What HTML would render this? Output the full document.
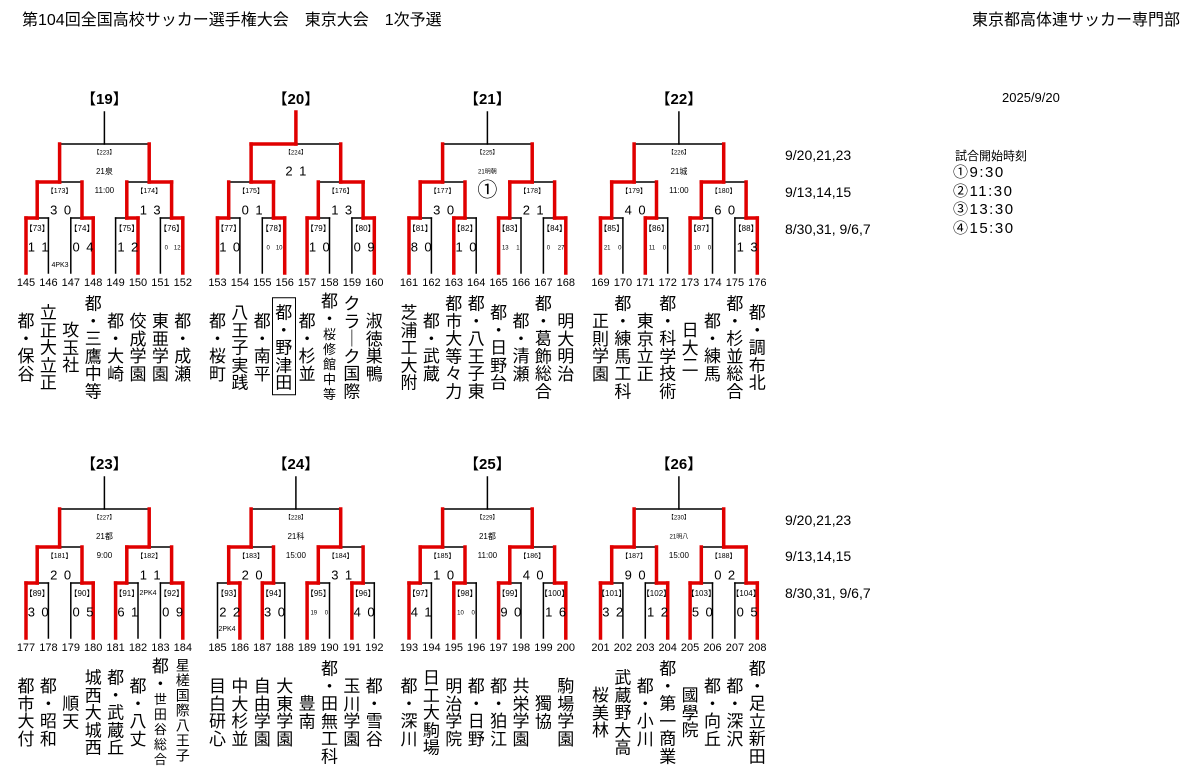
<!DOCTYPE html>
<html><head><meta charset="utf-8">
<style>
html,body{margin:0;padding:0;background:#fff;}
body{width:1200px;height:772px;position:relative;overflow:hidden;font-family:"Liberation Sans","Noto Sans CJK JP",sans-serif;color:#000;}
.t{position:absolute;white-space:nowrap;}
.nm{position:absolute;font-size:17px;line-height:17.5px;width:20px;text-align:center;transform:translateY(-50%);font-family:"Noto Sans CJK JP",sans-serif;}
.nm .s{font-size:13px;line-height:15px;}
.nm.sm{font-size:14px;line-height:15px;}
.box{border:1.5px solid #000;padding:4px 1px;}
svg{position:absolute;left:0;top:0;}
svg text{font-family:"Liberation Sans","Noto Sans CJK JP",sans-serif;}
</style></head><body>
<div class="t" style="left:22px;top:6px;font-size:16px;">第104回全国高校サッカー選手権大会　東京大会　1次予選</div>
<div class="t" style="right:20px;top:6px;font-size:16px;">東京都高体連サッカー専門部</div>
<div class="t" style="left:1002px;top:90px;font-size:13px;">2025/9/20</div>
<div class="t" style="left:785px;top:147px;font-size:14px;">9/20,21,23</div>
<div class="t" style="left:785px;top:184px;font-size:14px;">9/13,14,15</div>
<div class="t" style="left:785px;top:221px;font-size:14px;">8/30,31, 9/6,7</div>
<div class="t" style="left:785px;top:512px;font-size:14px;">9/20,21,23</div>
<div class="t" style="left:785px;top:548px;font-size:14px;">9/13,14,15</div>
<div class="t" style="left:785px;top:585px;font-size:14px;">8/30,31, 9/6,7</div>
<div class="t" style="left:955px;top:147px;font-size:12px;">試合開始時刻</div>
<div class="t" style="left:953px;top:164px;font-size:15px;line-height:18.5px;letter-spacing:1.5px;">①9:30<br>②11:30<br>③13:30<br>④15:30</div>
<svg id="sv" width="1200" height="772" xmlns="http://www.w3.org/2000/svg"></svg>
<div id="names"></div>
<script>
var B=[
{n:19,r1:'LRRR',r2:'LR',r3:'',l1:[73,74,75,76],l2:[173,174],l3:223,s1:['1 1','0 4','1 2','~0　12'],s2:['3 0','1 3'],v:'21泉',tm:'11:00',t0:145,
 nm:['都・保谷','立正大立正','攻玉社','都・三鷹中等','都・大崎','佼成学園','東亜学園','都・成瀬']},
{n:20,r1:'LRLR',r2:'RR',r3:'L',l1:[77,78,79,80],l2:[175,176],l3:224,s1:['1 0','~0　10','1 0','0 9'],s2:['0 1','1 3'],v:'2 1',vb:1,tm:'',t0:153,
 nm:['都・桜町','八王子実践','都・南平','#都・野津田','都・杉並','*都・|桜修館中等','クラ｜ク国際','淑徳巣鴨']},
{n:21,r1:'LLLR',r2:'LL',r3:'',l1:[81,82,83,84],l2:[177,178],l3:225,s1:['8 0','1 0','~13　 1','~0　 27'],s2:['3 0','2 1'],v:'~21明朝',tm:'①',tb:1,t0:161,
 nm:['芝浦工大附','都・武蔵','都市大等々力','都・八王子東','都・日野台','都・清瀬','都・葛飾総合','明大明治']},
{n:22,r1:'LLLR',r2:'LL',r3:'',l1:[85,86,87,88],l2:[179,180],l3:226,s1:['~21　 0','~11　 0','~10　 0','1 3'],s2:['4 0','6 0'],v:'21城',tm:'11:00',t0:169,
 nm:['正則学園','都・練馬工科','東京立正','都・科学技術','日大二','都・練馬','都・杉並総合','都・調布北']},
{n:23,r1:'LRLR',r2:'LL',r3:'',l1:[89,90,91,92],l2:[181,182],l3:227,s1:['3 0','0 5','6 1','0 9'],s2:['2 0','1 1'],v:'21都',tm:'9:00',t0:177,
 nm:['都市大付','都・昭和','順天','城西大城西','都・武蔵丘','都・八丈','*都・|世田谷総合','@星槎国際八王子']},
{n:24,r1:'RLLL',r2:'LL',r3:'',l1:[93,94,95,96],l2:[183,184],l3:228,s1:['2 2','3 0','~19　 0','4 0'],s2:['2 0','3 1'],v:'21科',tm:'15:00',t0:185,
 nm:['目白研心','中大杉並','自由学園','大東学園','豊南','都・田無工科','玉川学園','都・雪谷']},
{n:25,r1:'LLLR',r2:'LL',r3:'',l1:[97,98,99,100],l2:[185,186],l3:229,s1:['4 1','~10　 0','9 0','1 6'],s2:['1 0','4 0'],v:'21都',tm:'11:00',t0:193,
 nm:['都・深川','日工大駒場','明治学院','都・日野','都・狛江','共栄学園','獨協','駒場学園']},
{n:26,r1:'LRLR',r2:'LR',r3:'',l1:[101,102,103,104],l2:[187,188],l3:230,s1:['3 2','1 2','5 0','0 5'],s2:['9 0','0 2'],v:'~21明八',tm:'15:00',t0:201,
 nm:['桜美林','武蔵野大高','都・小川','都・第一商業','國學院','都・向丘','都・深沢','都・足立新田']}
];
var sv=document.getElementById('sv'),blk=[],red=[],txt=[];
function L(arr,x1,y1,x2,y2){arr.push('<line x1="'+x1+'" y1="'+y1+'" x2="'+x2+'" y2="'+y2+'"/>');}
function T(x,y,s,fs,extra){txt.push('<text x="'+x+'" y="'+y+'" font-size="'+fs+'" text-anchor="middle" dominant-baseline="middle" '+(extra||'')+'>'+s+'</text>');}
function S(x,y,s,fs){ if(s.charAt(0)=='~'){T(x+1,y,s.slice(1),6);} else T(x+1,y,s.replace(' ','\u2002'),fs||13);}
function V(s){return s.split('').join('<br>');}
var names='';
B.forEach(function(b,k){
 var bx=26+(k%4)*191.5, dy=k<4?0:365;
 var yT=273+dy,y1=218+dy,y2=182+dy,y3=144+dy,y4=112+dy;
 var xs=[];for(var i=0;i<8;i++)xs.push(bx+i*22.4);
 var m1=[],m2=[];
 for(var m=0;m<4;m++){var a=xs[2*m],c=xs[2*m+1],md=(a+c)/2;m1.push(md);
  L(blk,a,yT,a,y1);L(blk,c,yT,c,y1);L(blk,a,y1,c,y1);
  var w=b.r1[m],wx=w=='L'?a:c;L(red,wx,yT,wx,y1);L(red,wx,y1,md,y1);
  T(md,y1+11,'【'+b.l1[m]+'】',8);S(md,y1+30,b.s1[m]);}
 for(var m=0;m<2;m++){var a=m1[2*m],c=m1[2*m+1],md=(a+c)/2;m2.push(md);
  L(blk,a,y1,a,y2);L(blk,c,y1,c,y2);L(blk,a,y2,c,y2);
  L(red,a,y1,a,y2);L(red,c,y1,c,y2);
  var wx=b.r2[m]=='L'?a:c;L(red,wx,y2,md,y2);
  T(md,y2+9,'【'+b.l2[m]+'】',7);S(md,y2+29,b.s2[m],13);}
 var a=m2[0],c=m2[1],md=(a+c)/2;
 L(blk,a,y2,a,y3);L(blk,c,y2,c,y3);L(blk,a,y3,c,y3);L(blk,md,y3,md,y4);
 L(red,a,y2,a,y3);L(red,c,y2,c,y3);
 if(b.r3){var wx=b.r3=='L'?a:c;L(red,wx,y3,md,y3);L(red,md,y3,md,y4);}
 T(md,y3+9,'【'+b.l3+'】',6);
 if(b.v.charAt(0)=='~')T(md,y3+28,b.v.slice(1),6);else T(md,y3+28,b.v.replace(' ','\u2002'),b.vb?13:8);
 if(b.tm)T(md,y3+47,b.tm,b.tb?20:8);
 T(md,100+dy,'【'+b.n+'】',15,'font-weight="bold"');
 for(var i=0;i<8;i++)T(xs[i],283+dy,String(b.t0+i),11);
 for(var i=0;i<8;i++){var s=b.nm[i],cls='nm',h;
  if(s.charAt(0)=='#'){s=s.slice(1);cls+=' box';}
  if(s.charAt(0)=='*'){var p=s.slice(1).split('|');h=V(p[0])+'<div class="s">'+V(p[1])+'</div>';}
  else if(s.charAt(0)=='@'){cls+=' sm';h=V(s.slice(1));}
  else h=V(s);
  var off=cls.indexOf('box')>=0?3:0;
  names+='<div class="'+cls+'" style="left:'+(xs[i]-10-off)+'px;top:'+(346+dy)+'px">'+h+'</div>';}
});
T(60,265,'4PK3',7);T(148,593,'2PK4',7);T(227,629,'2PK4',7);
sv.innerHTML='<g stroke="#000" stroke-width="1.5" stroke-linecap="square">'+blk.join('')+'</g><g stroke="#e00000" stroke-width="3.5" stroke-linecap="square">'+red.join('')+'</g>'+txt.join('');
document.getElementById('names').innerHTML=names;
</script>
</body></html>
